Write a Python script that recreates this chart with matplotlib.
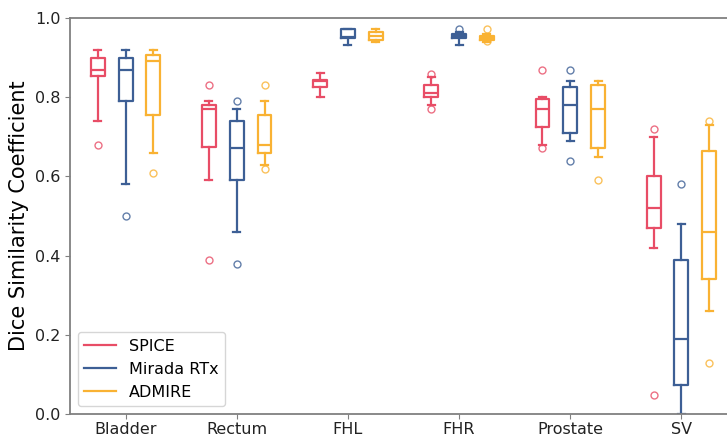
import matplotlib
matplotlib.use('Agg')
import matplotlib.pyplot as plt
from matplotlib.lines import Line2D

organs = ['Bladder', 'Rectum', 'FHL', 'FHR', 'Prostate', 'SV']
methods = ['SPICE', 'Mirada RTx', 'ADMIRE']
colors = ['#e84d66', '#3d5f95', '#f9b233']

# per organ: (whislo, q1, med, q3, whishi, fliers)
spice = [
    (0.74, 0.854, 0.87, 0.90, 0.92, [0.68]),
    (0.59, 0.675, 0.77, 0.78, 0.79, [0.83, 0.39]),
    (0.80, 0.825, 0.84, 0.843, 0.862, []),
    (0.78, 0.80, 0.81, 0.83, 0.852, [0.86, 0.77]),
    (0.68, 0.724, 0.77, 0.795, 0.80, [0.87, 0.671]),
    (0.42, 0.469, 0.52, 0.60, 0.70, [0.72, 0.049]),
]
mirada = [
    (0.58, 0.79, 0.87, 0.90, 0.92, [0.50]),
    (0.46, 0.59, 0.672, 0.74, 0.77, [0.79, 0.38]),
    (0.931, 0.949, 0.951, 0.972, 0.972, []),
    (0.931, 0.95, 0.955, 0.96, 0.965, [0.972]),
    (0.69, 0.71, 0.78, 0.826, 0.842, [0.87, 0.64]),
    (0.0, 0.073, 0.189, 0.39, 0.479, [0.58]),
]
admire = [
    (0.66, 0.754, 0.892, 0.907, 0.92, [0.61]),
    (0.63, 0.66, 0.68, 0.755, 0.79, [0.83, 0.62]),
    (0.94, 0.945, 0.955, 0.965, 0.972, []),
    (0.94, 0.945, 0.95, 0.955, 0.96, [0.972, 0.943]),
    (0.65, 0.672, 0.77, 0.83, 0.842, [0.59]),
    (0.26, 0.34, 0.46, 0.665, 0.73, [0.74, 0.13]),
]
groups = [spice, mirada, admire]

fig = plt.figure(figsize=(7.27, 4.37), dpi=100)
ax = fig.add_axes([0.0963, 0.0526, 0.9037, 0.906])

offsets = [-0.25, 0.0, 0.25]
for data, off, c in zip(groups, offsets, colors):
    stats = []
    for lo, q1, med, q3, hi, fl in data:
        stats.append(dict(whislo=lo, q1=q1, med=med, q3=q3, whishi=hi, fliers=fl))
    pos = [i + 1 + off for i in range(len(organs))]
    lp = dict(color=c, linewidth=1.6)
    ax.bxp(stats, positions=pos, widths=0.125, showfliers=True,
           boxprops=lp, whiskerprops=lp, capprops=lp, medianprops=lp,
           flierprops=dict(marker='o', markersize=5, markerfacecolor='none',
                           markeredgecolor=c, alpha=0.8, linestyle='none'))

ax.set_xlim(0.5, 6.41)
ax.set_ylim(0, 1.0)
ax.set_xticks(range(1, len(organs) + 1))
ax.set_xticklabels(organs)
ax.set_yticks([0.0, 0.2, 0.4, 0.6, 0.8, 1.0])
ax.tick_params(labelsize=11.5, colors='#808080', labelcolor='#222222')
ax.tick_params(axis='x', pad=2)
ax.set_ylabel('Dice Similarity Coefficient', fontsize=15)

for s in ['top', 'left', 'bottom']:
    ax.spines[s].set_color('#808080')
    ax.spines[s].set_linewidth(1.3)
ax.spines['right'].set_visible(False)

handles = [Line2D([0], [0], color=c, linewidth=1.6) for c in colors]
ax.legend(handles, methods, loc='lower left', fontsize=11.5)

fig.savefig('out.png', dpi=100)
